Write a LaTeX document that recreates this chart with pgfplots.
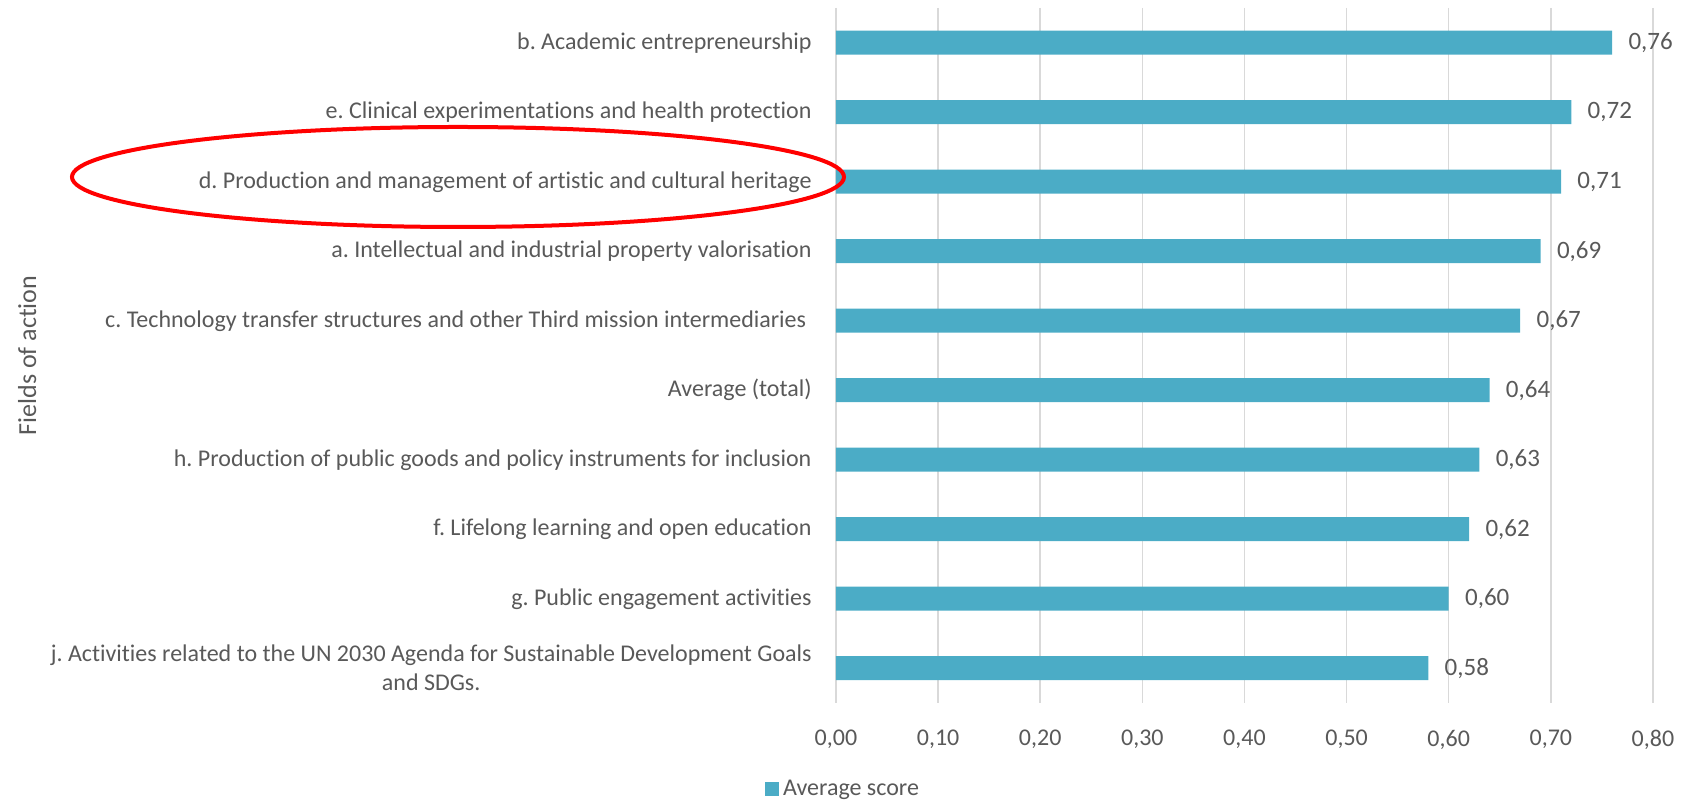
\documentclass[border=0pt]{standalone}
\usepackage{fontspec}
\setmainfont{Carlito}[Ligatures=NoCommon]
\usepackage{pgfplots}
\pgfplotsset{compat=1.18}
\definecolor{barc}{HTML}{4BACC6}
\definecolor{txt}{HTML}{595959}
\definecolor{gridc}{HTML}{D9D9D9}
\frenchspacing
\begin{document}
\begin{tikzpicture}
\path[use as bounding box] (-418pt,-49pt) rectangle (423pt,351.5pt);
\begin{axis}[
  scale only axis,
  width=408.5pt, height=347.5pt,
  xbar, bar width=12pt,
  xmin=0, xmax=0.8,
  ymin=-0.5, ymax=9.5,
  y dir=reverse,
  ytick={0,...,9},
  yticklabels={
    b. Academic entrepreneurship,
    e. Clinical experimentations and health protection,
    d. Production and management of artistic and cultural heritage,
    a. Intellectual and industrial property valorisation,
    c. Technology transfer structures and other Third mission intermediaries\ ,
    Average (total),
    h. Production of public goods and policy instruments for inclusion,
    f. Lifelong learning and open education,
    g. Public engagement activities,
    {j. Activities related to the UN 2030 Agenda for Sustainable Development Goals\\and SDGs.}
  },
  xtick={0,0.1,...,0.8},
  xmajorgrids, ymajorgrids=false,
  grid style={color=gridc, line width=0.75pt},
  axis line style={draw=none},
  major tick length=0pt,
  tick label style={font=\fontsize{12}{14.5}\selectfont, text=txt},
  /pgf/number format/.cd, fixed, fixed zerofill, precision=2, use comma, assume math mode=true,
  /pgfplots/.cd,
  xticklabel style={inner sep=0pt, anchor=north, yshift=-13.5pt},
  yticklabel style={inner sep=0pt, anchor=east, xshift=-12pt, align=center},
  ylabel={Fields of action},
  ylabel style={at={(axis description cs:-0.990,0.5)}, anchor=center, font=\fontsize{13}{15}\selectfont, text=txt},
  point meta=x,
  nodes near coords={\pgfmathprintnumber[fixed, fixed zerofill, precision=2, use comma, assume math mode=true]{\pgfplotspointmeta}},
  every node near coord/.append style={anchor=west, inner sep=0pt, xshift=8pt, font=\fontsize{12.5}{15}\selectfont, text=txt},
  legend style={at={(axis description cs:0.0098,-0.124)}, anchor=center, draw=none, font=\fontsize{12}{14.5}\selectfont, text=txt, inner sep=0pt},
  legend image code/.code={\fill[barc] (0pt,-3.5pt) rectangle (7pt,3.5pt);},
]
\addplot[fill=barc, draw=none] coordinates {
  (0.76,0) (0.72,1) (0.71,2) (0.69,3) (0.67,4) (0.64,5) (0.63,6) (0.62,7) (0.60,8) (0.58,9)
};
\addlegendentry{Average score}
\end{axis}
\draw[red, line width=2pt] (-189pt,263pt) ellipse [x radius=193pt, y radius=25pt];
\end{tikzpicture}
\end{document}
